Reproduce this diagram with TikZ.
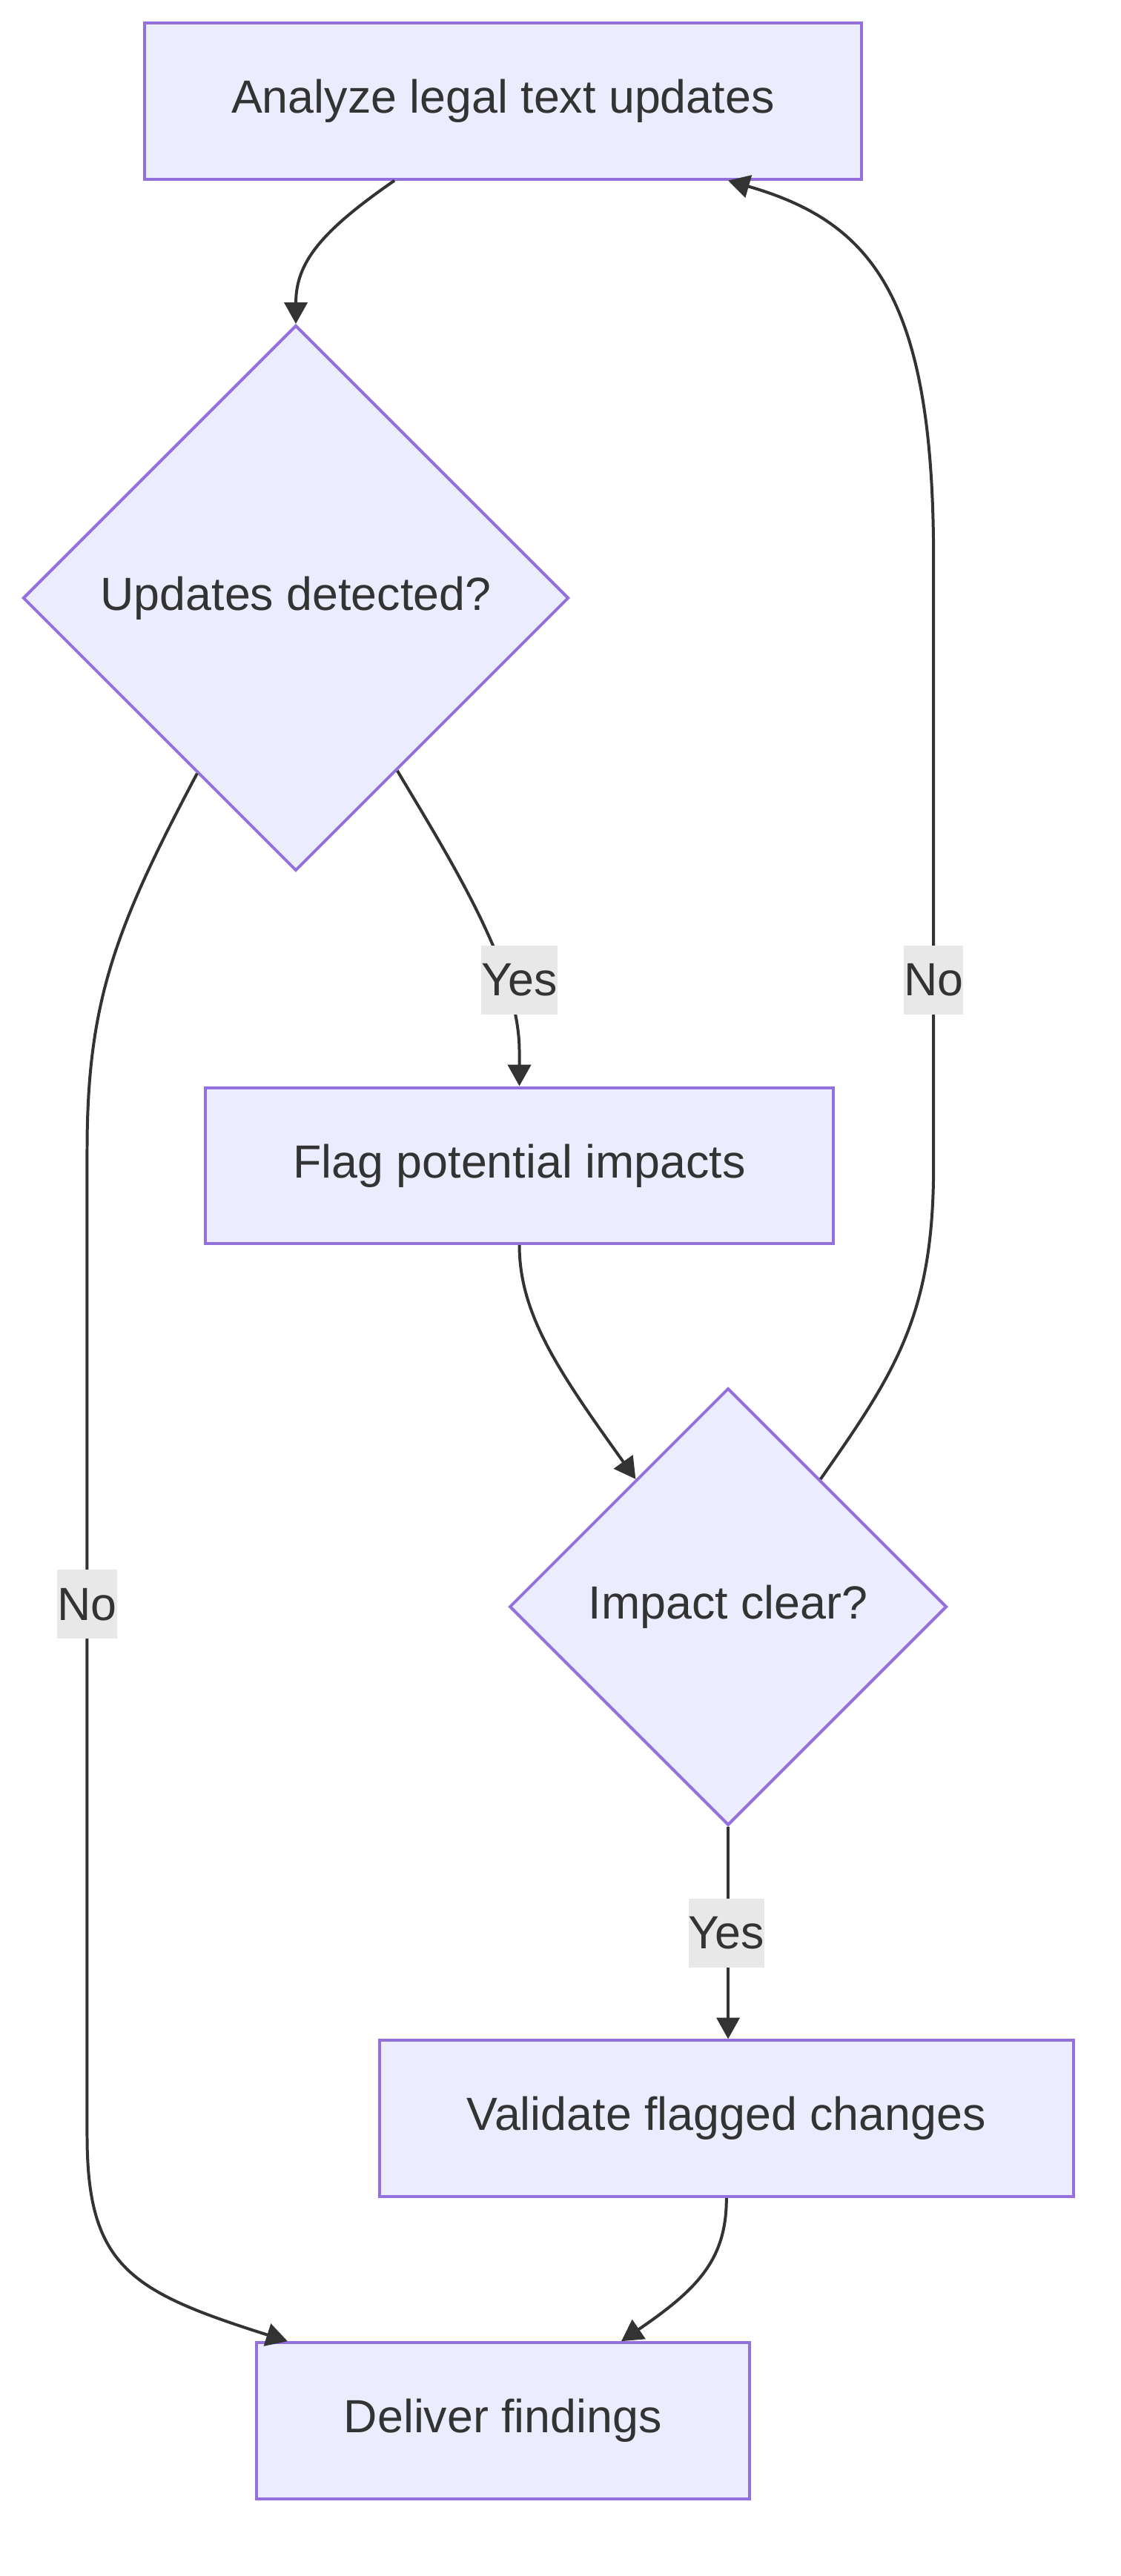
\documentclass[tikz,border=0pt]{standalone}
\usepackage{fontspec}
\setmainfont{Liberation Sans}
\usetikzlibrary{arrows.meta,shapes.geometric,calc}
\definecolor{boxfill}{HTML}{ECECFF}
\definecolor{boxline}{HTML}{9370DB}
\definecolor{ink}{HTML}{333333}
\definecolor{lblfill}{HTML}{E8E8E8}
\tikzset{
proc/.style={draw=boxline,fill=boxfill,line width=1.8pt,text=ink,minimum height=95pt,inner sep=0pt},
dec/.style={diamond,draw=boxline,fill=boxfill,line width=1.8pt,text=ink,inner sep=0pt,aspect=1},
lbl/.style={fill=lblfill,text=ink,inner sep=0pt,minimum height=42pt},
flow/.style={draw=ink,line width=1.8pt,-{Triangle[length=13pt,width=14pt]}}
}
\begin{document}
\begin{tikzpicture}[x=1pt,y=-1pt,font=\fontsize{28.3}{34}\selectfont]
\useasboundingbox (0,0) rectangle (682,1568);
\node[proc,minimum width=436pt](analyze) at (306,61.5){Analyze legal text updates};
\node[dec,minimum width=332pt,minimum height=332pt](detect) at (180,364){Updates detected?};
\node[proc,minimum width=382pt](flag) at (316,709.5){Flag potential impacts};
\node[dec,minimum width=266pt,minimum height=266pt](clear) at (443,978){Impact clear?};
\node[proc,minimum width=422pt](valid) at (442,1289.5){Validate flagged changes};
\node[proc,minimum width=300pt](deliver) at (306,1473.5){Deliver findings};
% connectors
\draw[flow] ([xshift=-66pt]analyze.south) .. controls (195,141) and (180,160) .. (detect.north);
\draw[flow] ($(detect.east)!0.63!(detect.south)$) .. controls (275,525) and (316,590) .. (316,640) -- ([xshift=0pt]flag.north);
\draw[flow] ($(detect.west)!0.64!(detect.south)$) .. controls (70,565) and (53,610) .. (53,700) -- (53,1300)
  .. controls (53,1380) and (80,1395) .. ([xshift=-131pt]deliver.north);
\draw[flow] (flag.south) .. controls (316,800) and (340,835) .. ($(clear.west)!0.58!(clear.north)$);
\draw[flow] ($(clear.east)!0.58!(clear.north)$) .. controls (545,835) and (568,800) .. (568,710) -- (568,340)
  .. controls (568,180) and (530,135) .. ([xshift=137pt]analyze.south);
\draw[flow] (clear.south) -- ([xshift=1pt]valid.north);
\draw[flow] (valid.south) .. controls (442,1375) and (425,1393) .. ([xshift=72pt]deliver.north);
% edge labels
\node[lbl](yes1) at (316,596.5){Yes};
\node[lbl](no1) at (568,596.5){No};
\node[lbl](no2) at (53,976.5){No};
\node[lbl](yes2) at (442,1176.5){Yes};
\end{tikzpicture}
\end{document}
